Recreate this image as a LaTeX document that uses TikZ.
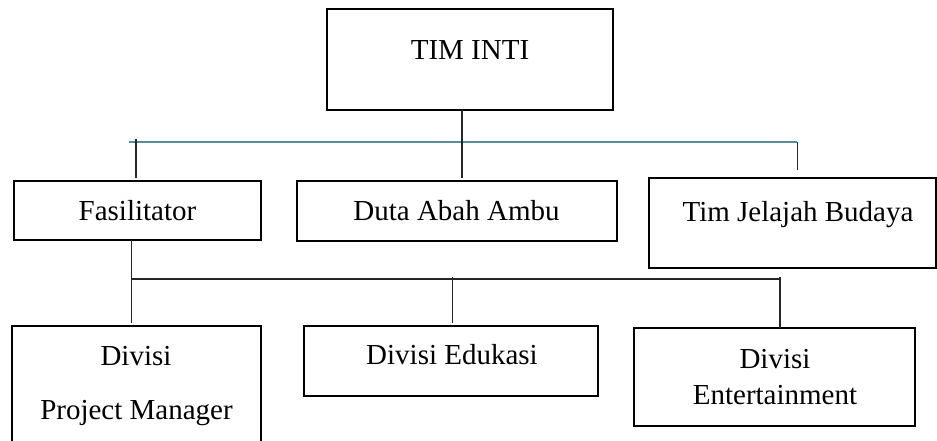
\documentclass[tikz,border=0pt]{standalone}
\usepackage{fontspec}
\setmainfont{Liberation Serif}
\definecolor{bluelink}{RGB}{84,140,160}
\begin{document}
\begin{tikzpicture}[x=1pt,y=-1pt,
  box/.style={draw=black,line width=1.9pt,inner sep=0pt},
  lbl/.style={anchor=base,inner sep=0pt,font=\fontsize{29}{34}\selectfont},
  conn/.style={draw=black!85,line width=1.1pt},
  blueconn/.style={draw=bluelink,line width=1.4pt}]
\useasboundingbox (0,0) rectangle (937,440);
% boxes
\node[box,fit/.style={},minimum width=286pt,minimum height=101pt] (inti) at (470,59.5) {};
\node[box,minimum width=247pt,minimum height=59pt] (fas) at (137.5,210.5) {};
\node[box,minimum width=320pt,minimum height=60pt] (duta) at (457,211) {};
\node[box,minimum width=287pt,minimum height=90pt] (tim) at (792.5,223) {};
\node[box,minimum width=249pt,minimum height=130pt] (pm) at (136.5,391) {};
\node[box,minimum width=294pt,minimum height=70pt] (edu) at (451,361) {};
\node[box,minimum width=281pt,minimum height=98pt] (ent) at (774.5,377) {};
% texts
\node[lbl] (tinti) at (470,59.3) {TIM INTI};
\node[lbl] (tfas) at (137.5,220) {Fasilitator};
\node[lbl] (tduta) at (456.5,220) {Duta Abah Ambu};
\node[lbl] (ttim) at (798,221.5) {Tim Jelajah Budaya};
\node[lbl] (tpm1) at (136,365) {Divisi};
\node[lbl] (tpm2) at (136.5,419) {Project Manager};
\node[lbl] (tedu) at (452,364) {Divisi Edukasi};
\node[lbl] (tent1) at (775,368.3) {Divisi};
\node[lbl] (tent2) at (775,404) {Entertainment};
% connector points
\coordinate (a1) at (462,110);
\coordinate (a2) at (462,177.5);
\coordinate (b1) at (129,142);
\coordinate (b2) at (797.3,142);
\coordinate (b3) at (797.3,170);
\coordinate (c1) at (136,139);
\coordinate (c2) at (136,177.5);
\coordinate (d1) at (131.7,240);
\coordinate (d2) at (131.7,279);
\coordinate (d3) at (131.7,323);
\coordinate (e1) at (780,279);
\coordinate (e2) at (780,277);
\coordinate (e3) at (780,328);
\coordinate (f1) at (452.7,277);
\coordinate (f2) at (452.7,323);
% connectors
\path[blueconn] (b1) -- (b2);
\path[conn] (b2) -- (b3);
\path[conn] (a1) -- (a2);
\path[conn] (c1) -- (c2);
\path[conn] (d1) -- (d3);
\path[conn] (d2) -- (e1);
\path[conn] (e2) -- (e3);
\path[conn] (f1) -- (f2);
\end{tikzpicture}
\end{document}
